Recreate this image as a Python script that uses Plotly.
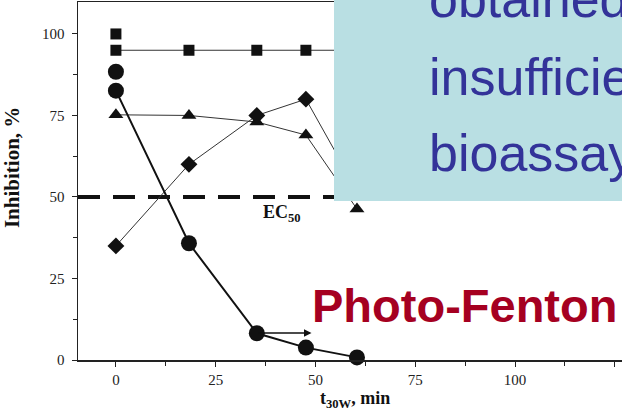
import plotly.graph_objects as go

# ---- data ----
time_min = [0, 18.3, 35.3, 47.6, 60.4]
squares = [95, 95, 95, 95, 95]
circles = [82.6, 35.8, 8.2, 3.8, 0.8]
triangles = [75.2, 75.0, 73.0, 69.0, 46.3]
diamonds = [35.0, 60.0, 75.0, 80.0, 52.0]
square_extra_x = [0]
square_extra_y = [100]
circle_extra_x = [0]
circle_extra_y = [88.4]
ec50_x = [-9.5, 70]
ec50_y = [50, 50]
x_ticks = [0, 25, 50, 75, 100, 125]
y_ticks = [0, 25, 50, 75, 100]

W, H = 622, 412
L, R, T, B = 78, 0, 0, 52

fig = go.Figure()

thin = dict(color="#333333", width=1)
fig.add_trace(go.Scatter(x=ec50_x, y=ec50_y, mode="lines",
                         line=dict(color="#111111", width=4, dash="22px,13px")))
fig.add_trace(go.Scatter(x=time_min, y=squares, mode="lines+markers", line=thin,
                         marker=dict(symbol="square", size=11, color="#111111")))
fig.add_trace(go.Scatter(x=square_extra_x, y=square_extra_y, mode="markers",
                         marker=dict(symbol="square", size=11, color="#111111")))
fig.add_trace(go.Scatter(x=time_min, y=triangles, mode="lines+markers", line=thin,
                         marker=dict(symbol="triangle-up", size=13, color="#111111")))
fig.add_trace(go.Scatter(x=time_min, y=diamonds, mode="lines+markers", line=thin,
                         marker=dict(symbol="diamond", size=13, color="#111111")))
fig.add_trace(go.Scatter(x=time_min, y=circles, mode="lines+markers",
                         line=dict(color="#111111", width=2),
                         marker=dict(symbol="circle", size=16, color="#111111")))
fig.add_trace(go.Scatter(x=circle_extra_x, y=circle_extra_y, mode="markers",
                         marker=dict(symbol="circle", size=16, color="#111111")))
fig.update_traces(cliponaxis=False, hoverinfo="skip")

serif = "Liberation Serif, Times New Roman, serif"
sans = "Liberation Sans, Arial, sans-serif"

axis_common = dict(showgrid=False, zeroline=False, showline=True, linecolor="#222222",
                   linewidth=1.5, ticks="outside", ticklen=5, tickcolor="#222222",
                   tickfont=dict(family=serif, size=15, color="#222222"),
                   minor=dict(ticks="outside", ticklen=4, dtick=12.5, tickcolor="#222222"))

fig.update_xaxes(range=[-9.5, 126.8], tickvals=x_ticks, mirror=True,
                 ticklabelstandoff=0, **axis_common)
fig.update_yaxes(range=[0, 109.8], tickvals=y_ticks, mirror=False,
                 ticklabelstandoff=4, **axis_common)

def px(xp):
    return (xp - L) / (W - L - R)

def py(yp):
    return (H - B - yp) / (H - T - B)

# overlay box from slide
fig.add_shape(type="rect", xref="paper", yref="paper", x0=px(334), x1=px(640),
              y0=py(200), y1=py(-20), fillcolor="#B9DFE3", line=dict(width=0), layer="above")

annotations = [
    dict(text="<b>EC<sub>50</sub></b>", x=36.4, y=45, xref="x", yref="y", xanchor="left", yanchor="middle",
         font=dict(family=serif, size=18, color="#111111")),
    dict(text="<b>Inhibition, %</b>", x=px(12), y=py(167), textangle=-90,
         xanchor="center", yanchor="middle",
         font=dict(family=serif, size=21, color="#111111")),
    dict(text="<b>t<sub>30W</sub>, min</b>", x=px(355), y=py(400),
         xanchor="center", yanchor="middle",
         font=dict(family=serif, size=18, color="#111111")),
    dict(text="<b>Photo-Fenton</b>", x=px(310), y=py(305), xanchor="left", yanchor="middle",
         font=dict(family=sans, size=47, color="#A50021")),
    dict(text="obtained with", x=px(427), y=py(-3), xanchor="left", yanchor="middle",
         font=dict(family=sans, size=52, color="#333399")),
    dict(text="insufficient", x=px(427), y=py(75), xanchor="left", yanchor="middle",
         font=dict(family=sans, size=52, color="#333399")),
    dict(text="bioassays", x=px(427), y=py(152), xanchor="left", yanchor="middle",
         font=dict(family=sans, size=52, color="#333399")),
]
for a in annotations:
    a.setdefault("xref", "paper")
    a.setdefault("yref", "paper")
    a["showarrow"] = False
    fig.add_annotation(**a)

# arrow from the 35 min point
fig.add_annotation(x=49, y=8.3, ax=35.3, ay=8.3, xref="x", yref="y", axref="x", ayref="y",
                   showarrow=True, arrowhead=2, arrowsize=1, arrowwidth=1.5,
                   arrowcolor="#111111", text="")

fig.update_layout(width=W, height=H, margin=dict(l=L, r=R, t=T, b=B),
                  plot_bgcolor="white", paper_bgcolor="white", showlegend=False,
                  hovermode=False)

fig.write_html("out.html", config={"displayModeBar": False, "staticPlot": True},
               post_script="document.body.style.margin='0';document.body.style.overflow='hidden';")
